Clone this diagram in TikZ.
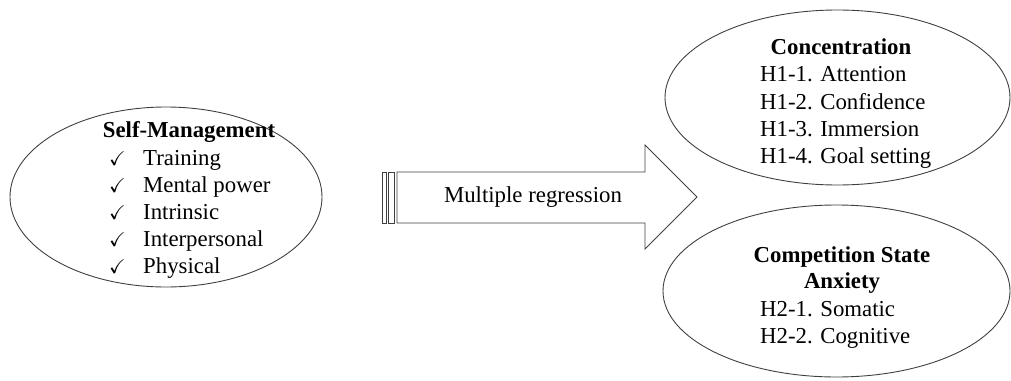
\documentclass[tikz,border=0pt]{standalone}
\usepackage{fontspec}
\usepackage{amssymb}
\setmainfont{Liberation Serif}
\usetikzlibrary{shapes.geometric}

\tikzset{
  outline/.style={draw=black!75, line width=0.9pt},
  oval/.style={outline, ellipse, inner sep=0pt},
  txt/.style={inner sep=0pt, font=\fontsize{22.8}{27}\selectfont},
  ttl/.style={txt, anchor=base, font=\fontsize{22.8}{27}\selectfont\bfseries},
  item/.style={txt, anchor=base west},
  tick/.style={inner sep=0pt, anchor=base west, font=\fontsize{20}{20}\selectfont},
}
\newcommand{\tk}{$\checkmark$}

\begin{document}
\begin{tikzpicture}[x=1pt, y=-1pt]
  \useasboundingbox (0,0) rectangle (1011,380);

  % ovals
  \node[oval, minimum width=312pt, minimum height=180pt] (sm) at (166,197) {};
  \node[oval, minimum width=345pt, minimum height=175pt] (conc) at (837.5,97.5) {};
  \node[oval, minimum width=347pt, minimum height=172pt] (csa) at (836.5,291) {};

  % self-management
  \node[ttl] (smt) at (189,137) {Self-Management};
  \foreach \y/\t/\n in {165/Training/a, 192/Mental power/b, 219/Intrinsic/c,
                        246/Interpersonal/d, 273/Physical/e} {
    \node[tick] (ck\n) at (109,\y) {\tk};
    \node[item] (sm\n) at (143,\y) {\t};
  }

  % concentration
  \node[ttl] (conct) at (841,54) {Concentration};
  \node[item] (c1) at (760,81.5) {H1-1. Attention};
  \node[item] (c2) at (760,109) {H1-2. Confidence};
  \node[item] (c3) at (760,136) {H1-3. Immersion};
  \node[item] (c4) at (760,163.5) {H1-4. Goal setting};

  % competition state anxiety
  \node[ttl] (csat1) at (842,262) {Competition State};
  \node[ttl] (csat2) at (842,288.5) {Anxiety};
  \node[item] (a1) at (760,316) {H2-1. Somatic};
  \node[item] (a2) at (760,343) {H2-2. Cognitive};

  % striped block arrow
  \draw[outline, line width=0.8pt] (382,172) rectangle (386,223);
  \draw[outline, line width=0.8pt] (388.5,172) rectangle (394.5,223);
  \draw[outline, line join=miter]
    (397,172) -- (645,172) -- (645,145) -- (697,197) -- (645,249)
    -- (645,223) -- (397,223) -- cycle;
  \node[txt] (mr) at (533,197) {Multiple regression};
\end{tikzpicture}
\end{document}
